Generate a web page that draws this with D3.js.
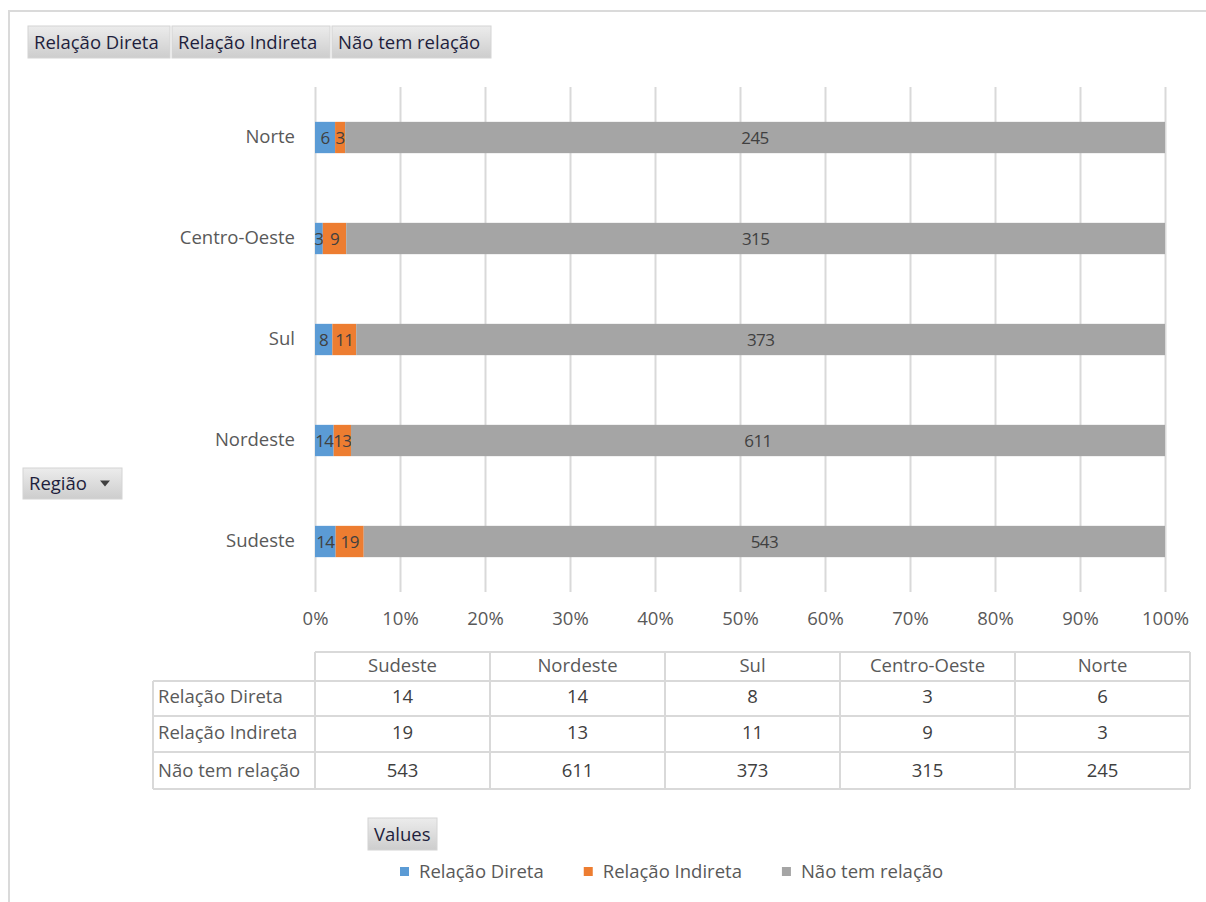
<!DOCTYPE html>
<html>
<head>
<meta charset="utf-8">
<script src="https://cdn.jsdelivr.net/npm/d3@7"></script>
<style>
  body { margin: 0; background: #fff; }
  text { font-family: "Open Sans", "Noto Sans", sans-serif; }
</style>
</head>
<body>
<div id="chart"></div>
<script>
// categories, bottom to top (Excel order) and same order as the table columns
var regions = ["Sudeste", "Nordeste", "Sul", "Centro-Oeste", "Norte"];
var seriesNames = ["Relação Direta", "Relação Indireta", "Não tem relação"];
var direta   = [14, 14, 8, 3, 6];
var indireta = [19, 13, 11, 9, 3];
var semRelacao = [543, 611, 373, 315, 245];
var colors = ["#5b9bd5", "#ed7d31", "#a5a5a5"];

var width = 1206, height = 902;
var fs = "18.5px";

var svg = d3.select("#chart")
  .append("svg")
    .attr("width", width)
    .attr("height", height);

var defs = svg.append("defs");
var grad = defs.append("linearGradient")
    .attr("id", "btn")
    .attr("x1", 0).attr("y1", 0).attr("x2", 0).attr("y2", 1);
grad.append("stop").attr("offset", "0%").attr("stop-color", "#ececec");
grad.append("stop").attr("offset", "100%").attr("stop-color", "#cdcdcd");

// outer frame
svg.append("line")
  .attr("x1", 8).attr("x2", width).attr("y1", 11).attr("y2", 11)
  .attr("stroke", "#dadada").attr("stroke-width", 2);
svg.append("line")
  .attr("x1", 9).attr("x2", 9).attr("y1", 11).attr("y2", height)
  .attr("stroke", "#dadada").attr("stroke-width", 2);

function button(x, y, w, h, label, arrow) {
  var g = svg.append("g").attr("transform", "translate(" + x + "," + y + ")");
  g.append("rect")
    .attr("width", w).attr("height", h)
    .attr("fill", "url(#btn)")
    .attr("stroke", "#d4d4d4");
  g.append("text")
    .attr("x", 6).attr("y", h / 2 + 6.5)
    .style("font-size", fs)
    .attr("fill", "#1e1e3c")
    .text(label);
  if (arrow) {
    g.append("path")
      .attr("d", "M" + (w - 22) + "," + (h / 2 - 3) + "l10,0l-5,6z")
      .attr("fill", "#404040");
  }
}

// field buttons on top
button(28, 26, 142, 32, seriesNames[0]);
button(172, 26, 158, 32, seriesNames[1]);
button(332, 26, 159, 32, seriesNames[2]);
button(23, 468, 99, 31, "Região", true);
button(368, 818, 69, 32, "Values");

// scales
var x = d3.scaleLinear()
  .domain([0, 1])
  .range([315, 1165]);

var y = d3.scaleBand()
  .domain(regions)
  .range([592, 87])
  .paddingInner(0)
  .paddingOuter(0);

var barH = y.bandwidth() * 0.31;

// gridlines + axis labels
var xAxis = svg.append("g")
  .attr("transform", "translate(0,592)")
  .call(d3.axisBottom(x).ticks(10, "%").tickSize(-505).tickPadding(20));
xAxis.select(".domain").remove();
xAxis.selectAll(".tick line").attr("stroke", "#d9d9d9").attr("stroke-width", 2);
xAxis.selectAll(".tick text")
  .attr("fill", "#595959")
  .style("font-size", fs)
  .style("font-family", "'Open Sans', sans-serif");

// category labels
var yAxis = svg.append("g")
  .attr("transform", "translate(315,0)")
  .call(d3.axisLeft(y).tickSize(0).tickPadding(20));
yAxis.select(".domain").remove();
yAxis.selectAll(".tick text")
  .attr("fill", "#595959")
  .style("font-size", fs)
  .style("font-family", "'Open Sans', sans-serif");

// stacked 100% data
var table = regions.map(function(r, i) {
  return { region: r, d: direta[i], ind: indireta[i], n: semRelacao[i] };
});
var keys = ["d", "ind", "n"];
var stack = d3.stack().keys(keys).offset(d3.stackOffsetExpand);
var layers = stack(table);

var layer = svg.selectAll(".layer")
  .data(layers)
  .enter()
  .append("g")
    .attr("class", "layer")
    .attr("fill", function(d, i) { return colors[i]; });

layer.selectAll("rect")
  .data(function(d) { return d; })
  .enter()
  .append("rect")
    .attr("x", function(d) { return x(d[0]); })
    .attr("width", function(d) { return x(d[1]) - x(d[0]); })
    .attr("y", function(d) { return y(d.data.region) + y.bandwidth() / 2 - barH / 2; })
    .attr("height", barH);

layer.selectAll("text")
  .data(function(d) {
    var k = d.key;
    return d.map(function(p) { return { p: p, v: p.data[k] }; });
  })
  .enter()
  .append("text")
    .attr("x", function(d) { return (x(d.p[0]) + x(d.p[1])) / 2; })
    .attr("y", function(d) { return y(d.p.data.region) + y.bandwidth() / 2 + 6.5; })
    .attr("text-anchor", "middle")
    .attr("fill", "#404040")
    .style("font-size", "17px")
    .style("letter-spacing", "-0.6px")
    .text(function(d) { return d.v; });

// data table below the chart
var col = d3.scaleBand()
  .domain(regions)
  .range([315, 1190]);
var rowTops = [652, 681, 716, 752, 789];
var rowVals = [direta, indireta, semRelacao];
var tg = svg.append("g");
var lineColor = "#d9d9d9";

// horizontal lines
rowTops.forEach(function(yy, i) {
  tg.append("line")
    .attr("x1", i === 0 ? 315 : 153).attr("x2", 1190)
    .attr("y1", yy).attr("y2", yy)
    .attr("stroke", lineColor).attr("stroke-width", 2);
});
// vertical lines
tg.append("line")
  .attr("x1", 153).attr("x2", 153).attr("y1", 681).attr("y2", 789)
  .attr("stroke", lineColor).attr("stroke-width", 2);
regions.concat(["end"]).forEach(function(r, i) {
  var xx = i < regions.length ? col(r) : 1190;
  tg.append("line")
    .attr("x1", xx).attr("x2", xx).attr("y1", 652).attr("y2", 789)
    .attr("stroke", lineColor).attr("stroke-width", 2);
});

// header row
tg.selectAll(".hdr")
  .data(regions)
  .enter()
  .append("text")
    .attr("x", function(d) { return col(d) + col.bandwidth() / 2; })
    .attr("y", 671.5)
    .attr("text-anchor", "middle")
    .attr("fill", "#595959")
    .style("font-size", fs)
    .text(function(d) { return d; });

var rowCenters = [696, 732, 770];
seriesNames.forEach(function(s, j) {
  var cy = rowCenters[j] + 6.5;
  tg.append("text")
    .attr("x", 158).attr("y", cy)
    .attr("fill", "#595959")
    .style("font-size", fs)
    .text(s);
  tg.selectAll(".v" + j)
    .data(regions)
    .enter()
    .append("text")
      .attr("x", function(d) { return col(d) + col.bandwidth() / 2; })
      .attr("y", cy)
      .attr("text-anchor", "middle")
      .attr("fill", "#404040")
      .style("font-size", fs)
      .text(function(d, i) { return rowVals[j][i]; });
});

// legend
var lg = svg.append("g").attr("transform", "translate(400,871)");
var lx = 0;
seriesNames.forEach(function(s, i) {
  var item = lg.append("g").attr("transform", "translate(" + lx + ",0)");
  item.append("rect")
    .attr("x", 0).attr("y", -4).attr("width", 9).attr("height", 9)
    .attr("fill", colors[i]);
  var t = item.append("text")
    .attr("x", 19).attr("y", 6.5)
    .attr("fill", "#595959")
    .style("font-size", fs)
    .text(s);
  lx += 19 + t.node().getComputedTextLength() + 40;
});
</script>
</body>
</html>
